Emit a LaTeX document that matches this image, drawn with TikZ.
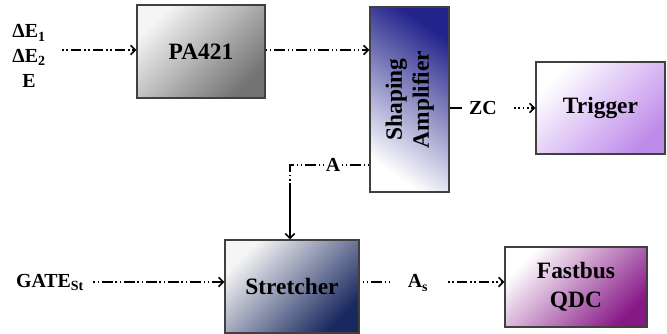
\documentclass[tikz,border=0pt]{standalone}
\usepackage{fontspec}
\setmainfont{LiberationSerif}[Extension=.ttf,UprightFont=*-Regular,BoldFont=*-Bold]
\usetikzlibrary{arrows.meta,shadings}
\begin{document}
\begin{tikzpicture}[x=0.03cm,y=-0.03cm,
  box/.style={draw=black!75,line width=0.9pt,inner sep=0pt,font=\bfseries\fontsize{20}{25}\selectfont,align=center},
  lbl/.style={inner sep=1pt,font=\bfseries\fontsize{17}{21}\selectfont,align=center},
  ddot/.style={line width=1.2pt,dash pattern=on 1.3pt off 2.4pt on 1.3pt off 2.4pt on 9pt off 2.4pt},
  tip/.style={-{Straight Barb[length=4pt,width=8pt,line width=1.4pt]}},
]
\useasboundingbox (0,0) rectangle (667,334);
% boxes
\node[box,minimum width=128*0.03cm,minimum height=93*0.03cm,top color=gray!8,bottom color=black!55,shading angle=45] (pa) at (201,51.5) {PA421};
\node[box,minimum width=79*0.03cm,minimum height=185*0.03cm,top color={rgb,255:red,35;green,35;blue,140},bottom color=white,shading angle=-35] (sa) at (409.5,99.5) {\rotatebox{90}{\begin{tabular}{@{}c@{}}Shaping\\[-2pt]Amplifier\end{tabular}}};
\node[box,minimum width=129*0.03cm,minimum height=92*0.03cm,top color=white,bottom color={rgb,255:red,190;green,140;blue,235},shading angle=45] (tr) at (600.5,108) {Trigger};
\node[box,minimum width=134*0.03cm,minimum height=93*0.03cm,top color=gray!8,bottom color={rgb,255:red,25;green,40;blue,95},shading angle=45] (st) at (292,286.5) {Stretcher};
\node[box,minimum width=142*0.03cm,minimum height=80*0.03cm,top color=white,bottom color={rgb,255:red,135;green,25;blue,135},shading angle=45] (qdc) at (576,287) {Fastbus\\QDC};
% labels
\node[lbl] (de) at (29,56) {ΔE\textsubscript{1}\\ΔE\textsubscript{2}\\E};
\node[lbl] (gate) at (50,282) {GATE\textsubscript{St}};
\node[lbl] (zc) at (483,108) {ZC};
\node[lbl] (a) at (333,165) {A};
\node[lbl] (as) at (418,283) {A\textsubscript{s}};
\coordinate (c1) at (290,165);
\coordinate (c2) at (290,186);
% connectors
\draw[ddot,tip] (62,50) -- (pa.west |- 0,50);
\draw[ddot,tip] (pa.east |- 0,50) -- (sa.west |- 0,50);
\draw[line width=1.2pt] (sa.east |- zc) -- ++(12,0);
\draw[line width=1.2pt,dash pattern=on 1.3pt off 2.4pt,tip] (514,108) -- (tr.west |- zc);
\draw[ddot] (sa.west |- a) -- (a.east);
\draw[ddot] (a.west) -- (c1) -- (c2);
\draw[line width=1.2pt,tip] (c2) -- (st.north -| c1);
\draw[ddot,tip] (gate.east) ++(8,0) -- (st.west |- gate);
\draw[ddot] (st.east |- 0,282) ++(3,0) -- (389,282);
\draw[ddot,tip] (448,282) -- (qdc.west |- 0,282);
\end{tikzpicture}
\end{document}
